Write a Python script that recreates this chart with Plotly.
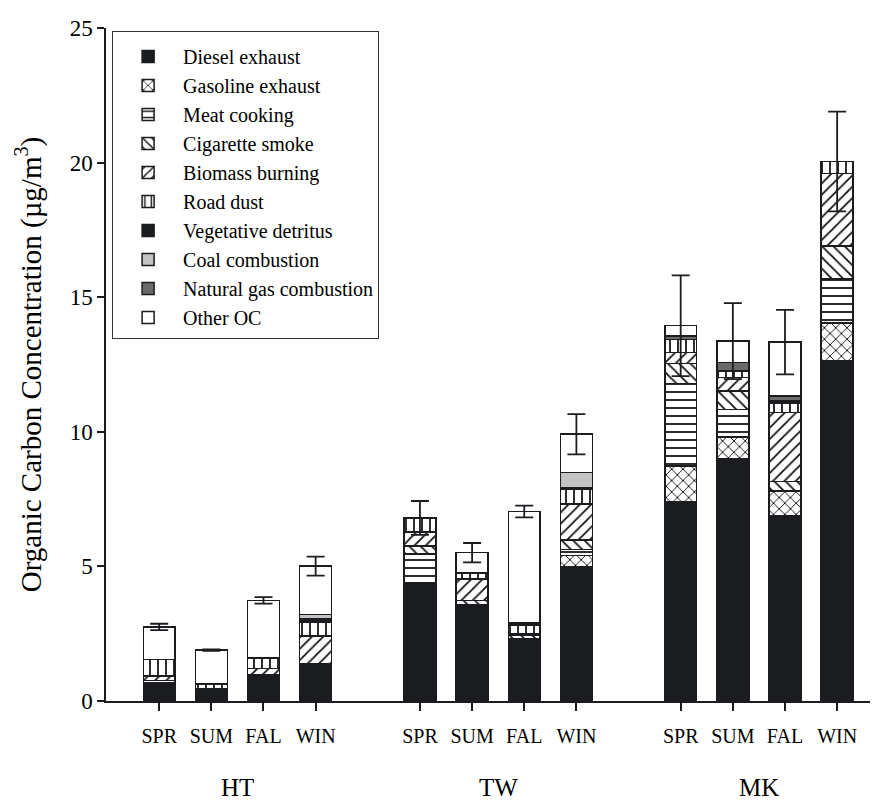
import plotly.graph_objects as go

seasons = ["SPR", "SUM", "FAL", "WIN"]
sites = ["HT", "TW", "MK"]
x_pos = [0, 1, 2, 3, 5, 6, 7, 8, 10, 11, 12, 13]
tick_labels = seasons * 3

diesel =      [0.68, 0.42, 0.96, 1.37, 4.40, 3.56, 2.32, 4.97, 7.42, 9.01, 6.90, 12.63]
gasoline =    [0.00, 0.00, 0.00, 0.00, 0.00, 0.00, 0.00, 0.44, 1.31, 0.80, 0.91, 1.42]
meat =        [0.08, 0.05, 0.00, 0.00, 1.06, 0.00, 0.00, 0.21, 3.06, 1.02, 0.00, 1.63]
cigarette =   [0.00, 0.00, 0.00, 0.00, 0.29, 0.18, 0.11, 0.37, 0.74, 0.69, 0.34, 1.23]
biomass =     [0.17, 0.00, 0.25, 1.05, 0.52, 0.80, 0.05, 1.33, 0.41, 0.49, 2.56, 2.69]
road_dust =   [0.61, 0.16, 0.39, 0.52, 0.53, 0.19, 0.33, 0.56, 0.49, 0.25, 0.34, 0.44]
vegetative =  [0.00, 0.00, 0.00, 0.12, 0.00, 0.05, 0.09, 0.05, 0.00, 0.00, 0.10, 0.00]
coal =        [0.00, 0.00, 0.00, 0.15, 0.00, 0.00, 0.00, 0.56, 0.00, 0.00, 0.00, 0.00]
natural_gas = [0.00, 0.00, 0.00, 0.00, 0.00, 0.00, 0.00, 0.00, 0.13, 0.31, 0.18, 0.00]
other_oc =    [1.21, 1.26, 2.14, 1.80, 0.00, 0.73, 4.14, 1.42, 0.38, 0.80, 2.00, 0.00]
errors =      [0.12, 0.03, 0.12, 0.35, 0.63, 0.36, 0.22, 0.75, 1.87, 1.41, 1.20, 1.85]

series = [
    ("Diesel exhaust", diesel, "#1a1c20", ""),
    ("Gasoline exhaust", gasoline, "white", "x"),
    ("Meat cooking", meat, "white", "-"),
    ("Cigarette smoke", cigarette, "white", "\\"),
    ("Biomass burning", biomass, "white", "/"),
    ("Road dust", road_dust, "white", "|"),
    ("Vegetative detritus", vegetative, "#1a1c20", ""),
    ("Coal combustion", coal, "#c3c3c3", ""),
    ("Natural gas combustion", natural_gas, "#6b6b6b", ""),
    ("Other OC", other_oc, "white", ""),
]

FONT = "Liberation Serif"
fig = go.Figure()
for i, (name, vals, color, shape) in enumerate(series):
    fig.add_trace(go.Bar(
        x=x_pos, y=vals, name=name, width=0.61,
        legendgroup="g%d" % i,
        marker=dict(
            color=color,
            line=dict(color="#1a1c20", width=1.5),
            pattern=dict(shape=shape, fgcolor="#111111", bgcolor="white",
                         fgopacity=1, size=8, solidity=0.22) if shape else None,
        ),
    ))

totals = [sum(s[1][k] for s in series) for k in range(len(x_pos))]
fig.add_trace(go.Scatter(
    x=x_pos, y=totals, mode="markers", showlegend=False,
    marker=dict(size=1, opacity=0),
    error_y=dict(type="data", array=errors, visible=True,
                 color="#1a1c20", thickness=1.8, width=9),
))

for j, site in enumerate(sites):
    fig.add_annotation(x=x_pos[4 * j] + 1.5, y=-0.152, xref="x", yref="paper",
                       text=site, showarrow=False,
                       font=dict(family=FONT, size=25, color="black"))

fig.update_layout(
    barmode="stack",
    width=870, height=794,
    margin=dict(l=98, r=8, t=18, b=101),
    paper_bgcolor="white", plot_bgcolor="white",
    font=dict(family=FONT, color="black"),
    showlegend=True,
    legend=dict(
        x=0.008, y=0.996, xanchor="left", yanchor="top",
        bordercolor="#333", borderwidth=1, bgcolor="white",
        font=dict(family=FONT, size=20, color="black"),
        title=dict(text=" ", font=dict(family=FONT, size=4)),
        traceorder="normal", tracegroupgap=2,
        itemwidth=60,
    ),
    xaxis=dict(
        range=[-1.02, 13.63], tickmode="array", tickvals=x_pos, ticktext=tick_labels,
        showline=True, linecolor="#1a1c20", linewidth=1.5,
        ticks="outside", ticklen=8, tickwidth=1.5, tickcolor="#1a1c20",
        ticklabelstandoff=8,
        tickfont=dict(family=FONT, size=20), showgrid=False, zeroline=False,
    ),
    yaxis=dict(
        range=[0, 25], tickvals=[0, 5, 10, 15, 20, 25],
        showline=True, linecolor="#1a1c20", linewidth=1.5,
        ticks="outside", ticklen=7, tickwidth=1.5, tickcolor="#1a1c20",
        tickfont=dict(family=FONT, size=23), showgrid=False, zeroline=False,
        title=dict(text="Organic Carbon Concentration (µg/m<sup>3</sup>)",
                   font=dict(family=FONT, size=29), standoff=20),
    ),
)

fig.write_html("out.html")
